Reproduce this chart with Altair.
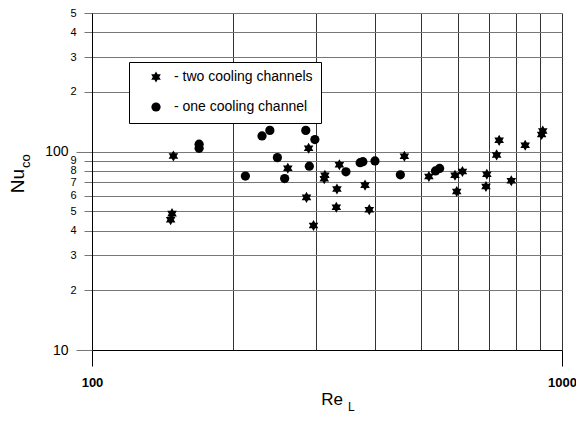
import altair as alt
import pandas as pd

FONT = "Liberation Sans"

series_two = "two cooling channels"
series_one = "one cooling channel"

two_re = [147, 148, 149, 261, 286, 289, 296, 312, 313, 331, 332, 336, 381, 389,
          462, 521, 592, 597, 614, 689, 692, 726, 735, 780, 835, 905, 910]
two_nu = [45.4, 48.7, 95, 82.5, 58.8, 104, 42.4, 73, 76, 52.4, 64.8, 85.8, 67.8, 51,
          94.8, 74.9, 76.1, 63, 79.4, 66.7, 77, 96.3, 114, 71.3, 107.7, 122, 127]

one_re = [169, 169, 212, 230, 239, 248, 257, 285, 290, 298, 347, 372, 377, 400, 453, 538, 549]
one_nu = [104, 109, 75.3, 120, 128, 93.3, 73.2, 128, 84.5, 115, 79.1, 88, 89, 89.8, 76.4, 79.9, 82.3]

x_ticks = [100, 200, 300, 400, 500, 600, 700, 800, 900, 1000]
y_ticks = [10, 20, 30, 40, 50, 60, 70, 80, 90, 100, 200, 300, 400, 500]

df = pd.DataFrame({
    "Re": two_re + one_re,
    "Nu": two_nu + one_nu,
    "series": [series_two] * len(two_re) + [series_one] * len(one_re),
})

# six-pointed star (two overlapping triangles, same winding)
STAR = "M0,-1.2L1.04,0.6L-1.04,0.6Z M0,1.2L-1.04,-0.6L1.04,-0.6Z"

x_major = "datum.value == 100 || datum.value == 1000"
y_major = "datum.value == 10 || datum.value == 100"

x_axis = alt.Axis(
    values=x_ticks, title=None, grid=True, gridColor="#333", gridWidth=1,
    domainColor="black", tickColor="black",
    tickSize={"condition": {"test": x_major, "value": 16}, "value": 0},
    labelExpr="(" + x_major + ") ? format(datum.value, 'd') : ''",
    labelFont=FONT, labelFontSize=13, labelFontWeight="bold", labelColor="black",
    labelPadding=10, labelFlush=False, labelOverlap=False,
)

y_axis = alt.Axis(
    values=y_ticks, title=None, grid=True, gridColor="#777", gridWidth=1,
    domainColor="black", tickColor="#777",
    tickSize={"condition": {"test": y_major, "value": 16}, "value": 8},
    labelExpr="(" + y_major + ") ? format(datum.value, 'd') : substring(format(datum.value, 'd'), 0, 1)",
    labelFont=FONT, labelColor="black",
    labelFontSize={"condition": {"test": y_major, "value": 14}, "value": 11},
    labelPadding=8, labelFlush=False, labelOverlap=False,
)

points = alt.Chart(df).mark_point(filled=True, opacity=1, color="black", size=85).encode(
    x=alt.X("Re:Q", scale=alt.Scale(type="log", domain=[100, 1000]), axis=x_axis),
    y=alt.Y("Nu:Q", scale=alt.Scale(type="log", domain=[10, 500]), axis=y_axis),
    shape=alt.Shape(
        "series:N",
        scale=alt.Scale(domain=[series_two, series_one], range=[STAR, "circle"]),
        legend=alt.Legend(
            title=None, orient="none", legendX=37, legendY=49,
            strokeColor="black", fillColor="white", padding=8, rowPadding=13,
            symbolSize=85, symbolFillColor="black", symbolStrokeColor="black",
            symbolOffset=12, labelOffset=11, labelFont=FONT, labelFontSize=14,
            labelColor="black", labelExpr="'- ' + datum.label", labelLimit=300,
        ),
    ),
)

def label(txt, x, y, size, align="center", angle=0):
    return alt.Chart(pd.DataFrame({"t": [txt]})).mark_text(
        font=FONT, fontSize=size, color="black", align=align,
        baseline="alphabetic", angle=angle,
    ).encode(x=alt.value(x), y=alt.value(y), text="t:N")

re_t = label("Re", 240, 392, 17)
l_t = label("L", 256, 398, 12, align="left")
nu_t = label("Nu", -68, 168, 19, angle=270)
co_t = label("co", -62, 155, 13, align="left", angle=270)

chart = alt.layer(points, re_t, l_t, nu_t, co_t).properties(
    width=470, height=337,
    padding={"left": 84, "top": 5, "right": 14, "bottom": 63},
    autosize="none",
).configure_view(stroke="#555").configure(font=FONT)

chart.save("out.html", embed_options={"renderer": "svg", "actions": False})
